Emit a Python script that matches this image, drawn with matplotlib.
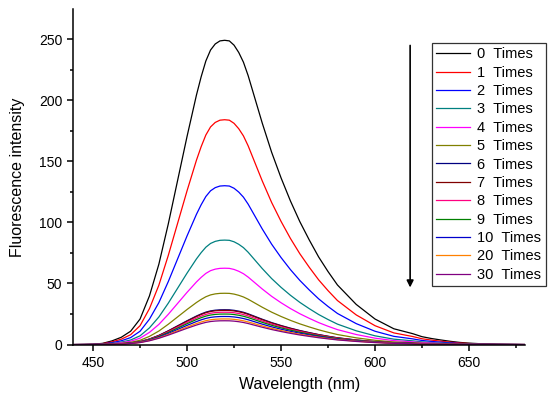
import numpy as np
import matplotlib
matplotlib.use('Agg')
import matplotlib.pyplot as plt
from matplotlib.ticker import MultipleLocator

plt.rcParams['font.family'] = ['Liberation Sans', 'DejaVu Sans']

# wavelength grid (nm) and the 0-times spectrum
wavelength = [440, 445, 450, 455, 460, 465, 470, 475, 480, 485, 490, 495,
              500, 502.5, 505, 507.5, 510, 512.5, 515, 517.5, 520, 522.5, 525,
              527.5, 530, 532.5, 535, 537.5, 540, 545, 550, 555, 560, 565, 570,
              575, 580, 585, 590, 595, 600, 605, 610, 615, 620, 625, 630, 635,
              640, 645, 650, 655, 660, 665, 670, 675, 680]
spectrum_0 = [0, 0.1, 0.3, 1, 3, 6, 11, 21, 40, 66, 99, 135,
              171, 188, 205, 220, 233, 242, 247, 249.5, 250, 249.5, 246,
              240, 232, 221, 208, 195, 182, 158, 137, 118, 101, 86, 72,
              60, 49, 41, 33, 27, 21, 17, 13, 11, 9, 6.5, 5, 3.8,
              2.7, 1.8, 1.2, 0.8, 0.5, 0.3, 0.2, 0.1, 0]

labels = ['0  Times', '1  Times', '2  Times', '3  Times', '4  Times', '5  Times',
          '6  Times', '7  Times', '8  Times', '9  Times', '10  Times', '20  Times',
          '30  Times']
peaks = [249, 184, 130, 85.5, 62.5, 42, 28.5, 28, 26.5, 25, 23, 21, 19.5]
colors = ['#000000', '#FF0000', '#0000FF', '#008080', '#FF00FF', '#808000',
          '#000080', '#800000', '#FF0080', '#008000', '#0000CC', '#FF8000',
          '#800080']

base = np.array(spectrum_0) / 250.0

fig = plt.figure(figsize=(5.5, 3.97), dpi=100)
ax = fig.add_axes([0.1333, 0.132, 0.822, 0.845])

for lab, pk, c in zip(labels, peaks, colors):
    ax.plot(wavelength, base * pk, color=c, lw=0.9, label=lab)

ax.set_xlim(439.5, 680)
ax.set_ylim(0, 274.5)
ax.xaxis.set_major_locator(MultipleLocator(50))
ax.xaxis.set_minor_locator(MultipleLocator(25))
ax.yaxis.set_major_locator(MultipleLocator(50))
ax.yaxis.set_minor_locator(MultipleLocator(25))
ax.spines['top'].set_visible(False)
ax.spines['right'].set_visible(False)
for s in ['left', 'bottom']:
    ax.spines[s].set_linewidth(1.1)
ax.tick_params(which='major', direction='out', length=4.5, width=1.1, labelsize=10)
ax.tick_params(which='minor', direction='out', length=2.5, width=1.1)

ax.set_xlabel('Wavelength (nm)', fontsize=11.5, labelpad=5)
ax.set_ylabel('Fluorescence intensity', fontsize=11.5, labelpad=10)

ax.annotate('', xy=(0.745, 0.162), xytext=(0.745, 0.9), xycoords='axes fraction',
            arrowprops=dict(arrowstyle='-|>', color='black', lw=1.2,
                            mutation_scale=10))

leg = fig.legend(loc='upper right', bbox_to_anchor=(0.992, 0.892), fontsize=10.5,
                 frameon=True, fancybox=False, borderaxespad=0,
                 handlelength=2.3, handletextpad=0.5, labelspacing=0.3,
                 borderpad=0.3)
leg.get_frame().set_edgecolor('black')
leg.get_frame().set_linewidth(0.9)

fig.savefig('out.png', dpi=100)
